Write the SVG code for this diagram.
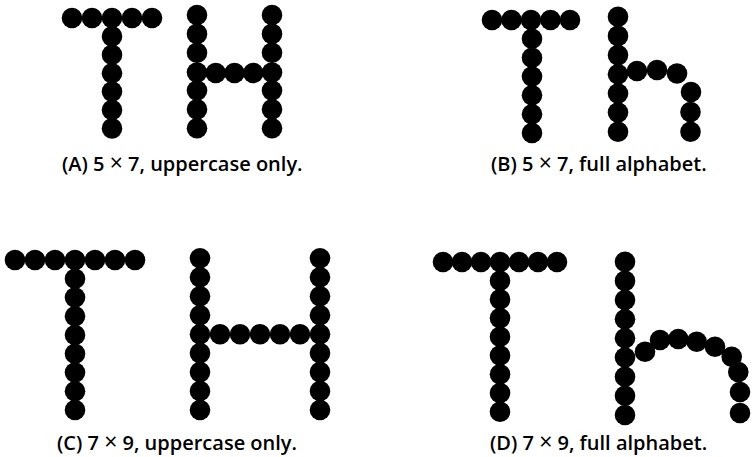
<svg xmlns="http://www.w3.org/2000/svg" width="753" height="457" viewBox="0 0 753 457">
<style>
  .d { fill: #000; }
  .lbl { font-family: "Open Sans", "Liberation Sans", sans-serif; font-weight: 600; font-size: 20px; fill: #000; }
  .x { font-weight: 400; font-size: 23px; }
</style>
<defs>
  <circle id="dot" r="10.3" class="d"/>
</defs>
<rect width="753" height="457" fill="#fff"/>

<g id="panelA">
  <g id="A-T">
    <use href="#dot" x="72" y="18"/><use href="#dot" x="92" y="18"/><use href="#dot" x="112" y="18"/><use href="#dot" x="132" y="18"/><use href="#dot" x="152" y="18"/>
    <use href="#dot" x="112" y="36.4"/><use href="#dot" x="112" y="54.8"/><use href="#dot" x="112" y="73.2"/><use href="#dot" x="112" y="91.6"/><use href="#dot" x="112" y="110"/><use href="#dot" x="112" y="128.4"/>
  </g>
  <g id="A-H">
    <use href="#dot" x="197" y="15"/><use href="#dot" x="197" y="33.9"/><use href="#dot" x="197" y="52.8"/><use href="#dot" x="197" y="72.5"/><use href="#dot" x="197" y="90.5"/><use href="#dot" x="197" y="109.4"/><use href="#dot" x="197" y="128.3"/>
    <use href="#dot" x="272" y="15"/><use href="#dot" x="272" y="33.9"/><use href="#dot" x="272" y="52.8"/><use href="#dot" x="272" y="72.5"/><use href="#dot" x="272" y="90.5"/><use href="#dot" x="272" y="109.4"/><use href="#dot" x="272" y="128.3"/>
    <use href="#dot" x="215.75" y="73"/><use href="#dot" x="234.5" y="73"/><use href="#dot" x="253.25" y="73"/>
  </g>
  <text id="A-label" class="lbl" x="62" y="171">(A) 5 <tspan class="x">×</tspan> 7, uppercase only.</text>
</g>

<g id="panelB">
  <g id="B-T">
    <use href="#dot" x="492" y="20"/><use href="#dot" x="511.5" y="20"/><use href="#dot" x="531" y="20"/><use href="#dot" x="550.5" y="20"/><use href="#dot" x="570" y="20"/>
    <use href="#dot" x="532" y="38.8"/><use href="#dot" x="532" y="57.7"/><use href="#dot" x="532" y="76.5"/><use href="#dot" x="532" y="95.3"/><use href="#dot" x="532" y="114.2"/><use href="#dot" x="532" y="133"/>
  </g>
  <g id="B-h">
    <use href="#dot" x="618" y="16.7"/><use href="#dot" x="618" y="35.9"/><use href="#dot" x="618" y="55.1"/><use href="#dot" x="618" y="74.3"/><use href="#dot" x="618" y="93.5"/><use href="#dot" x="618" y="112.5"/><use href="#dot" x="618" y="131.7"/>
    <use href="#dot" x="637" y="71"/><use href="#dot" x="657" y="70"/><use href="#dot" x="677" y="73.5"/>
    <use href="#dot" x="691" y="92"/><use href="#dot" x="690.5" y="112"/><use href="#dot" x="690.5" y="131.7"/>
  </g>
  <text id="B-label" class="lbl" x="491" y="171">(B) 5 <tspan class="x">×</tspan> 7, full alphabet.</text>
</g>

<g id="panelC">
  <g id="C-T">
    <use href="#dot" x="15" y="260"/><use href="#dot" x="35" y="260"/><use href="#dot" x="55" y="260"/><use href="#dot" x="75" y="260"/><use href="#dot" x="95" y="260"/><use href="#dot" x="115" y="260"/><use href="#dot" x="135" y="260"/>
    <use href="#dot" x="75" y="278.75"/><use href="#dot" x="75" y="297.5"/><use href="#dot" x="75" y="316.25"/><use href="#dot" x="75" y="335"/><use href="#dot" x="75" y="353.75"/><use href="#dot" x="75" y="372.5"/><use href="#dot" x="75" y="391.25"/><use href="#dot" x="75" y="410"/>
  </g>
  <g id="C-H">
    <use href="#dot" x="200" y="258.3"/><use href="#dot" x="200" y="277.3"/><use href="#dot" x="200" y="296.2"/><use href="#dot" x="200" y="315.2"/><use href="#dot" x="200" y="334.2"/><use href="#dot" x="200" y="353.1"/><use href="#dot" x="200" y="372.1"/><use href="#dot" x="200" y="391"/><use href="#dot" x="200" y="410"/>
    <use href="#dot" x="320" y="258.3"/><use href="#dot" x="320" y="277.3"/><use href="#dot" x="320" y="296.2"/><use href="#dot" x="320" y="315.2"/><use href="#dot" x="320" y="334.2"/><use href="#dot" x="320" y="353.1"/><use href="#dot" x="320" y="372.1"/><use href="#dot" x="320" y="391"/><use href="#dot" x="320" y="410"/>
    <use href="#dot" x="220" y="334.2"/><use href="#dot" x="240" y="334.2"/><use href="#dot" x="260" y="334.2"/><use href="#dot" x="280" y="334.2"/><use href="#dot" x="300" y="334.2"/>
  </g>
  <text id="C-label" class="lbl" x="57" y="449.5">(C) 7 <tspan class="x">×</tspan> 9, uppercase only.</text>
</g>

<g id="panelD">
  <g id="D-T">
    <use href="#dot" x="443" y="262"/><use href="#dot" x="462" y="262"/><use href="#dot" x="481" y="262"/><use href="#dot" x="500" y="262"/><use href="#dot" x="519" y="262"/><use href="#dot" x="538" y="262"/><use href="#dot" x="557" y="262"/>
    <use href="#dot" x="500" y="280.7"/><use href="#dot" x="500" y="299.4"/><use href="#dot" x="500" y="318.1"/><use href="#dot" x="500" y="336.8"/><use href="#dot" x="500" y="355.5"/><use href="#dot" x="500" y="374.2"/><use href="#dot" x="500" y="393"/><use href="#dot" x="500" y="411.7"/>
  </g>
  <g id="D-h">
    <use href="#dot" x="625" y="261.7"/><use href="#dot" x="625" y="280.9"/><use href="#dot" x="625" y="300"/><use href="#dot" x="625" y="319.2"/><use href="#dot" x="625" y="338.3"/><use href="#dot" x="625" y="357.5"/><use href="#dot" x="625" y="376.7"/><use href="#dot" x="625" y="395.8"/><use href="#dot" x="625" y="415"/>
    <use href="#dot" x="645" y="351.7"/><use href="#dot" x="660" y="340"/><use href="#dot" x="678.3" y="339"/><use href="#dot" x="696.7" y="341.7"/><use href="#dot" x="715" y="346.7"/><use href="#dot" x="731.7" y="356.7"/><use href="#dot" x="738.3" y="372"/><use href="#dot" x="740" y="392"/><use href="#dot" x="740" y="413"/>
  </g>
  <text id="D-label" class="lbl" x="490" y="449.5">(D) 7 <tspan class="x">×</tspan> 9, full alphabet.</text>
</g>
</svg>
